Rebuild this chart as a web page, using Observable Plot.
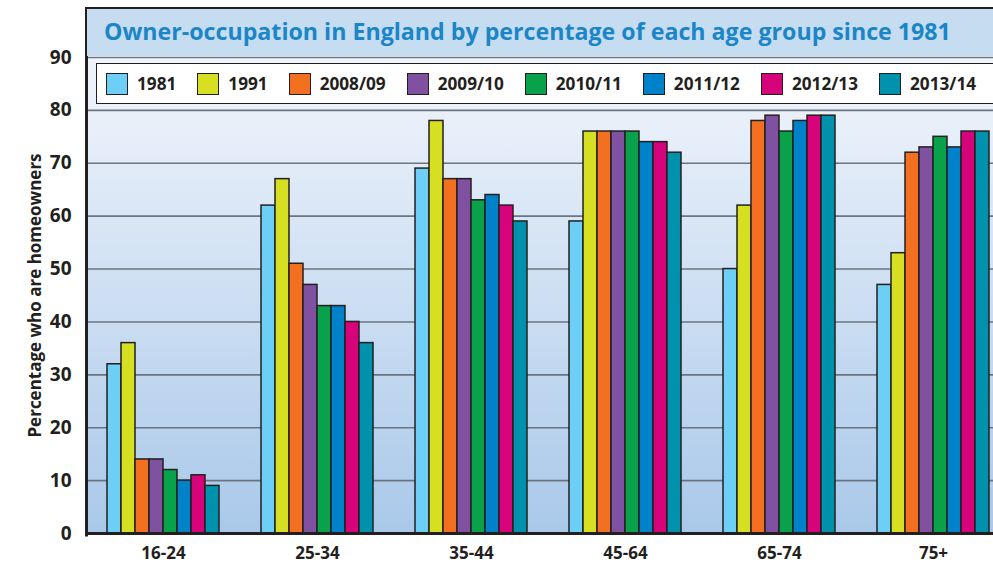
<!DOCTYPE html>
<html>
<head>
<meta charset="utf-8">
<script src="https://cdn.jsdelivr.net/npm/d3@7"></script>
<script src="https://cdn.jsdelivr.net/npm/@observablehq/plot@0.6"></script>
<style>
  html, body { margin: 0; padding: 0; background: #fff; overflow: hidden; }
  #wrap { position: relative; width: 1010px; height: 564px; font-family: "Open Sans", sans-serif; }
  #wrap svg { position: absolute; left: 0; top: 0; max-width: none; }
  #title {
    position: absolute; left: 87px; top: 7px; width: 930px; height: 49px;
    box-sizing: border-box; background: #c6dcf1; border-top: 2.5px solid #231f20;
    color: #1a86c8; font-weight: 700; font-size: 23.2px; line-height: 44px;
    padding-left: 17px; white-space: nowrap;
  }
  #legend {
    position: absolute; left: 96px; top: 63px; width: 930px; height: 41px;
    box-sizing: border-box; background: #fff; border: 1.5px solid #231f20;
    display: flex; align-items: center; padding-left: 9px;
  }
  .item { display: flex; align-items: center; margin-right: 21px; }
  .sw { width: 22px; height: 22px; box-sizing: border-box; border: 1.5px solid #231f20; margin-right: 9px; }
  .lab { font-weight: 700; font-size: 17.2px; color: #231f20; }
</style>
</head>
<body>
<div id="wrap"></div>
<script>
const ages = ["16-24", "25-34", "35-44", "45-64", "65-74", "75+"];
const series = ["1981", "1991", "2008/09", "2009/10", "2010/11", "2011/12", "2012/13", "2013/14"];
const colors = ["#6dcff6", "#d7df23", "#f37021", "#7f51a0", "#0aa14b", "#0082ca", "#d6037a", "#0092ad"];
const v1981 = [32, 62, 69, 59, 50, 47];
const v1991 = [36, 67, 78, 76, 62, 53];
const v200809 = [14, 51, 67, 76, 78, 72];
const v200910 = [14, 47, 67, 76, 79, 73];
const v201011 = [12, 43, 63, 76, 76, 75];
const v201112 = [10, 43, 64, 74, 78, 73];
const v201213 = [11, 40, 62, 74, 79, 76];
const v201314 = [9, 36, 59, 72, 79, 76];
const yTicks = [0, 10, 20, 30, 40, 50, 60, 70, 80, 90];
const gridTicks = [10, 20, 30, 40, 50, 60, 70, 80, 90];
const titleText = "Owner-occupation in England by percentage of each age group since 1981";
const yLabel = "Percentage who are homeowners";

const valueSets = [v1981, v1991, v200809, v200910, v201011, v201112, v201213, v201314];
const data = [];
ages.forEach((age, i) => {
  series.forEach((s, j) => data.push({age, series: s, value: valueSets[j][i]}));
});

const ink = "#231f20";

const chart = Plot.plot({
  width: 1010,
  height: 564,
  marginTop: 57,
  marginBottom: 31,
  marginLeft: 86,
  marginRight: 0,
  style: {fontFamily: "'Open Sans', sans-serif", fontWeight: "bold", fontSize: "18px", color: ink, background: "transparent"},
  fx: {domain: ages, padding: 0, label: null, axis: "bottom", tickSize: 0, tickPadding: 13},
  x: {domain: series, paddingInner: 0, paddingOuter: 1.35, axis: null},
  y: {domain: [0, 90], ticks: yTicks, tickSize: 0, tickPadding: 15, label: yLabel, labelAnchor: "center", labelOffset: 58, labelArrow: "none"},
  color: {domain: series, range: colors},
  marks: [
    Plot.frame({fill: "url(#bggrad)", stroke: null, facet: "super"}),
    Plot.ruleY(gridTicks, {stroke: "#6b7581", strokeWidth: 1.6}),
    Plot.barY(data, {fx: "age", x: "series", y: "value", fill: "series", stroke: ink, strokeWidth: 1.5, inset: 0}),
    Plot.ruleY([0], {stroke: ink, strokeWidth: 3}),
    Plot.frame({anchor: "left", facet: "super", stroke: ink, strokeWidth: 3, insetTop: -49, insetBottom: -1.5})
  ]
});

const defs = d3.select(chart).insert("defs", ":first-child");
const grad = defs.append("linearGradient").attr("id", "bggrad").attr("x1", 0).attr("y1", 0).attr("x2", 0).attr("y2", 1);
grad.append("stop").attr("offset", 0).attr("stop-color", "#eff4fb");
grad.append("stop").attr("offset", 0.12).attr("stop-color", "#e9f0fa");
grad.append("stop").attr("offset", 1).attr("stop-color", "#a9c8e9");

d3.select(chart).selectAll('[aria-label="y-axis tick label"] text').style("font-size", "19px");
d3.select(chart).selectAll('[aria-label="y-axis label"] text').style("font-size", "17px");
d3.select(chart).selectAll('[aria-label="fx-axis tick label"] text').style("font-size", "17px");

const wrap = document.getElementById("wrap");
wrap.appendChild(chart);

const title = document.createElement("div");
title.id = "title";
title.textContent = titleText;
wrap.appendChild(title);

const legend = document.createElement("div");
legend.id = "legend";
series.forEach((s, j) => {
  const item = document.createElement("div");
  item.className = "item";
  const sw = document.createElement("div");
  sw.className = "sw";
  sw.style.background = colors[j];
  const lab = document.createElement("span");
  lab.className = "lab";
  lab.textContent = s;
  item.appendChild(sw);
  item.appendChild(lab);
  legend.appendChild(item);
});
wrap.appendChild(legend);
</script>
</body>
</html>
